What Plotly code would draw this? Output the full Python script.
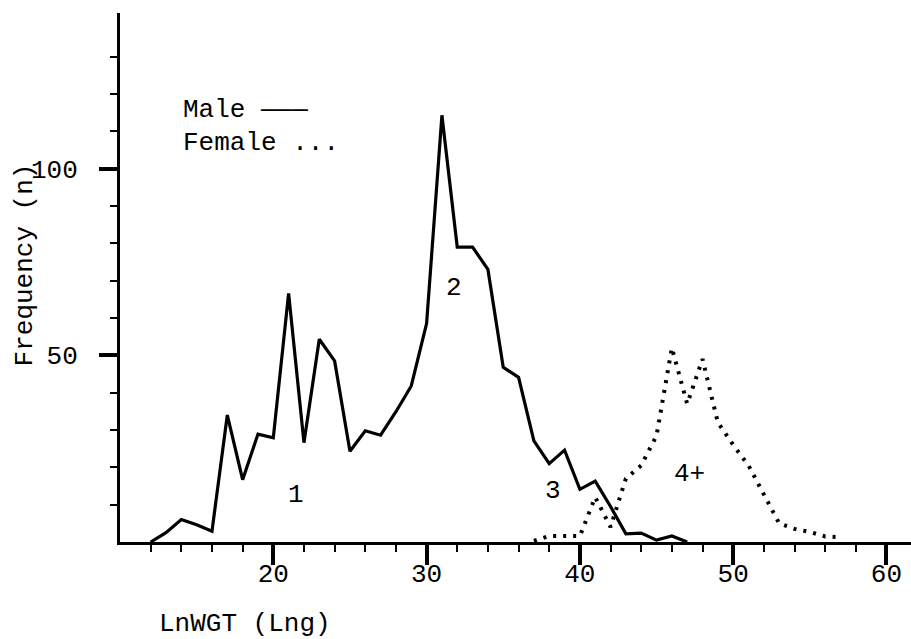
import plotly.graph_objects as go

# ---- data ----
male_x = list(range(12, 48))
male_y = [0, 2.5, 6.0, 4.6, 2.9, 34, 16.7, 28.9, 27.9, 66.6,
          26.6, 54.3, 48.5, 24.3, 29.8, 28.6, 34.9, 41.8, 58.5, 114.3,
          79, 79, 73, 46.8, 44.1, 27.1, 21, 24.6, 14.1, 16.3,
          9.5, 2.2, 2.4, 0.5, 1.6, 0]

female_x = list(range(37, 58))
female_y = [0.3, 1.6, 1.6, 1.6, 12, 4, 17, 20.5, 28.5, 52,
            37, 49, 32, 26, 20.5, 12.5, 5, 3.5, 2.7, 1.5, 1.3]

x_ticks = [20, 30, 40, 50, 60]
x_minor = [12, 14, 16, 18, 22, 24, 26, 28, 32, 34, 36, 38, 42, 44, 46, 48, 52, 54, 56, 58]
y_ticks = [50, 100]
y_minor = [10, 20, 30, 40, 60, 70, 80, 90, 110, 120, 130]

group_labels = ["1", "2", "3", "4+"]
group_x = [21.45, 31.8, 38.25, 47.16]
group_y = [12.5, 68, 13.6, 18.3]

FONT = "Liberation Mono, Courier New, monospace"
FS = 26

fig = go.Figure()
fig.add_trace(go.Scatter(x=male_x, y=male_y, mode="lines", name="Male",
                         line=dict(color="black", width=3.2), showlegend=False))
fig.add_trace(go.Scatter(x=female_x, y=female_y, mode="lines", name="Female",
                         line=dict(color="black", width=4, dash="3px,7px"),
                         showlegend=False))

for t, gx, gy in zip(group_labels, group_x, group_y):
    fig.add_annotation(x=gx, y=gy, text=t, showarrow=False,
                       font=dict(family=FONT, size=FS, color="black"))

# legend as text
fig.add_annotation(x=14.0, y=115.7, text="Male \u2014\u2014\u2014", showarrow=False,
                   xanchor="left", yanchor="middle",
                   font=dict(family=FONT, size=FS, color="black"))
fig.add_annotation(x=14.0, y=106.8, text="Female ...", showarrow=False,
                   xanchor="left", yanchor="middle",
                   font=dict(family=FONT, size=FS, color="black"))

# axis titles
fig.add_annotation(xref="paper", yref="paper", x=0.047, y=-0.155,
                   text="LnWGT (Lng)", showarrow=False, xanchor="left", yanchor="middle",
                   font=dict(family=FONT, size=FS, color="black"))
fig.add_annotation(xref="paper", yref="paper", x=-0.12, y=0.523,
                   text="Frequency (n)", showarrow=False, textangle=-90,
                   xanchor="center", yanchor="middle",
                   font=dict(family=FONT, size=FS, color="black"))

fig.update_layout(
    width=911, height=639,
    margin=dict(l=120, r=0, t=13, b=97),
    paper_bgcolor="white", plot_bgcolor="white",
    font=dict(family=FONT, size=FS, color="black"),
    xaxis=dict(range=[10, 61.6], showgrid=False, zeroline=False,
               showline=True, linecolor="black", linewidth=3,
               tickmode="array", tickvals=x_ticks, ticks="outside",
               ticklen=20, tickwidth=4, tickcolor="black",
               ticklabelstandoff=-14,
               minor=dict(tickmode="array", tickvals=x_minor, ticks="outside",
                          ticklen=7, tickwidth=2, tickcolor="black"),
               tickfont=dict(family=FONT, size=FS, color="black")),
    yaxis=dict(range=[0, 141.7], showgrid=False, zeroline=False,
               showline=True, linecolor="black", linewidth=3,
               tickmode="array", tickvals=y_ticks, ticks="outside",
               ticklen=18, tickwidth=4, tickcolor="black",
               ticklabelstandoff=16,
               minor=dict(tickmode="array", tickvals=y_minor, ticks="outside",
                          ticklen=7, tickwidth=2, tickcolor="black"),
               tickfont=dict(family=FONT, size=FS, color="black")),
)

fig.write_html("out.html")
